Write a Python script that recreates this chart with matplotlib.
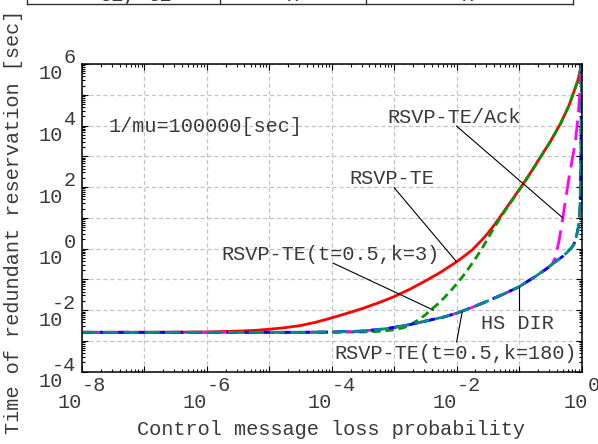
import numpy as np
from matplotlib import pyplot as plt
from matplotlib.ticker import LogLocator, NullFormatter

plt.rcParams["font.family"] = ["Liberation Mono", "DejaVu Sans Mono"]
plt.rcParams["lines.scale_dashes"] = False

TEXT = "#3a3a3a"
FS = 14.6
W, H = 598, 444

# values are log10(loss probability) / log10(time [sec])
rsvp_lp = [-8, -7, -6, -5.5, -5.25, -5, -4.75, -4.5, -4.25, -4, -3.75, -3.5, -3.25, -3,
           -2.75, -2.5, -2.25, -2, -1.85, -1.75, -1.6, -1.5, -1.4, -1.3, -1.2,
           -1.1, -0.93, -0.8, -0.66, -0.5, -0.34, -0.2, -0.13, -0.06, -0.03, -0.01, 0]
rsvp_ly = [-2.72, -2.72, -2.71, -2.68, -2.66, -2.62, -2.57, -2.5, -2.39, -2.25, -2.1, -1.94, -1.76, -1.56,
           -1.32, -1.05, -0.76, -0.43, -0.2, -0.04, 0.27, 0.5, 0.76, 1.04, 1.33,
           1.62, 2.12, 2.52, 2.97, 3.48, 4.05, 4.65, 5.05, 5.45, 5.7, 5.9, 6.1]

k3_lp = [-8, -6, -4, -3.5, -3.25, -3.0, -2.85, -2.75, -2.6, -2.5, -2.42, -2.3, -2.2, -2.1, -2.0,
         -1.9, -1.8, -1.7, -1.6, -1.5, -1.4, -1.3, -1.2,
         -1.1, -0.93, -0.8, -0.66, -0.5, -0.34, -0.2, -0.13, -0.06, -0.03, -0.01, 0]
k3_ly = [-2.72, -2.72, -2.72, -2.71, -2.69, -2.64, -2.57, -2.49, -2.3, -2.15, -2.0, -1.8, -1.6, -1.38, -1.15,
         -0.9, -0.62, -0.33, -0.02, 0.33, 0.68, 1.0, 1.31,
         1.6, 2.1, 2.5, 2.96, 3.47, 4.04, 4.65, 5.05, 5.45, 5.7, 5.9, 6.1]

low_lp = [-8, -6, -4.5, -4, -3.5, -3.12, -2.75, -2.42, -2.2, -2.0, -1.75, -1.5, -1.25, -1.0, -0.75,
          -0.55, -0.4, -0.3, -0.23, -0.16, -0.12, -0.09, -0.074, -0.05, -0.03, -0.02, -0.01, -0.003, 0]
low_ly = [-2.72, -2.72, -2.72, -2.71, -2.68, -2.6, -2.47, -2.32, -2.22, -2.1, -1.91, -1.7, -1.48, -1.24, -0.92,
          -0.64, -0.4, -0.25, -0.12, 0.03, 0.15, 0.33, 0.47, 0.7, 1.1, 1.6, 2.8, 4.5, 6.1]

ack_lp = [-8, -6, -4.5, -4, -3.5, -3.12, -2.75, -2.42, -2.2, -2.0, -1.75, -1.5, -1.25, -1.0, -0.75,
          -0.55, -0.47, -0.42, -0.36, -0.31, -0.25, -0.2, -0.15, -0.1, -0.05, -0.02, 0]
ack_ly = [-2.72, -2.72, -2.72, -2.71, -2.68, -2.6, -2.47, -2.32, -2.22, -2.1, -1.91, -1.7, -1.48, -1.24, -0.92,
          -0.64, -0.5, -0.3, 0.25, 0.85, 1.65, 2.3, 2.88, 3.42, 4.4, 5.3, 6.1]

x_exps = [-8, -6, -4, -2, 0]
y_exps = [-4, -2, 0, 2, 4, 6]


def p(v):
    return 10.0 ** np.asarray(v, dtype=float)


fig = plt.figure(figsize=(W / 100, H / 100), dpi=100)
ax = fig.add_axes([82 / W, 1 - 371.7 / H, 499.5 / W, 307.7 / H])
ax.set_xscale("log")
ax.set_yscale("log")

ax.plot(p(rsvp_lp), p(rsvp_ly), color="#ff0000", lw=2.0)
ax.plot(p(k3_lp), p(k3_ly), color="#009a00", lw=2.0, dashes=(6, 3.5))
ax.plot(p(ack_lp), p(ack_ly), color="#ff00ff", lw=2.0, dashes=(14, 6))
ax.plot(p(low_lp), p(low_ly), color="#0000ff", lw=2.0, dashes=(8, 5))
ax.plot(p(low_lp), p(low_ly), color="#008b8b", lw=2.0, dashes=(11, 4))

ax.set_xlim(1e-8, 1)
ax.set_ylim(1e-4, 1e6)
ax.set_xticks(p(range(-8, 1)))
ax.set_yticks(p(range(-4, 7)))
ax.xaxis.set_minor_locator(LogLocator(base=10, subs=np.arange(2, 10), numticks=100))
ax.yaxis.set_minor_locator(LogLocator(base=10, subs=np.arange(2, 10), numticks=100))
ax.xaxis.set_minor_formatter(NullFormatter())
ax.yaxis.set_minor_formatter(NullFormatter())
ax.tick_params(which="both", direction="in", top=True, right=True,
               labelbottom=False, labelleft=False, width=0.8)
ax.tick_params(which="major", length=4.5)
ax.tick_params(which="minor", length=2.2)
ax.grid(True, which="major", color="#c4c4c4", linestyle=(0, (3, 2)), lw=0.9)
ax.set_axisbelow(True)
for s in ax.spines.values():
    s.set_linewidth(1.1)

# gnuplot-like 10^n tick labels
cw = 12.1
for e in x_exps:
    s = str(e)
    dx = (2 - len(s)) * cw / 2
    ax.annotate("10", xy=(10.0 ** e, 0), xycoords=("data", "axes fraction"),
                xytext=(dx, -36), textcoords="offset pixels",
                ha="right", va="baseline", fontsize=FS, color=TEXT, annotation_clip=False)
    ax.annotate(s, xy=(10.0 ** e, 0), xycoords=("data", "axes fraction"),
                xytext=(dx, -19.5), textcoords="offset pixels",
                ha="left", va="baseline", fontsize=FS, color=TEXT, annotation_clip=False)
for e in y_exps:
    ax.annotate("10", xy=(0, 10.0 ** e), xycoords=("axes fraction", "data"),
                xytext=(-19, -15.5), textcoords="offset pixels",
                ha="right", va="baseline", fontsize=FS, color=TEXT, annotation_clip=False)
    ax.annotate(str(e), xy=(0, 10.0 ** e), xycoords=("axes fraction", "data"),
                xytext=(-6, 1), textcoords="offset pixels",
                ha="right", va="baseline", fontsize=FS, color=TEXT, annotation_clip=False)

# labels inside the plot
ax.text(p(-7.58), p(3.79), "1/mu=100000[sec]", fontsize=FS, color=TEXT, va="baseline")
ax.text(p(-3.11), p(4.07), "RSVP-TE/Ack", fontsize=FS, color=TEXT, va="baseline")
ax.text(p(-3.72), p(2.09), "RSVP-TE", fontsize=FS, color=TEXT, va="baseline")
ax.text(p(-5.76), p(-0.37), "RSVP-TE(t=0.5,k=3)", fontsize=FS, color=TEXT, va="baseline")
ax.text(p(-1.61), p(-2.62), "HS DIR", fontsize=FS, color=TEXT, va="baseline")
ax.text(p(-3.96), p(-3.60), "RSVP-TE(t=0.5,k=180)", fontsize=FS, color=TEXT, va="baseline")

pointers = [
    ((-2.0, 3.98), (-0.30, 1.0)),
    ((-3.0, 1.98), (-2.0, -0.43)),
    ((-3.98, -0.47), (-2.37, -2.0)),
    ((-2.0, -3.03), (-1.91, -2.05)),
    ((-1.0, -1.24), (-1.0, -2.0)),
]
for (x0, y0), (x1, y1) in pointers:
    ax.plot(p([x0, x1]), p([y0, y1]), color="black", lw=0.8)

fig.text(331 / W, 1 - 435 / H, "Control message loss probability",
         fontsize=FS, color=TEXT, ha="center", va="baseline")
fig.text(14 / W, 1 - 221.5 / H, "Time of redundant reservation [sec]",
         fontsize=FS, color=TEXT, ha="center", va="center", rotation=90)

# clipped remains of a table above the chart
ty = 1 - 4.5 / H
fig.add_artist(plt.Line2D([27 / W, 573 / W], [ty, ty], color="#333333", lw=1.0))
for xp in [27, 219.5, 366, 573]:
    fig.add_artist(plt.Line2D([xp / W, xp / W], [ty, 1.0], color="#333333", lw=1.0))
for xp, s in [(135, "t1, t2"), (291.7, "x"), (466.7, "x")]:
    fig.text(xp / W, 1 - 1.2 / H, s, fontsize=FS, color=TEXT, ha="center", va="baseline")

fig.savefig("out.png", dpi=100)
